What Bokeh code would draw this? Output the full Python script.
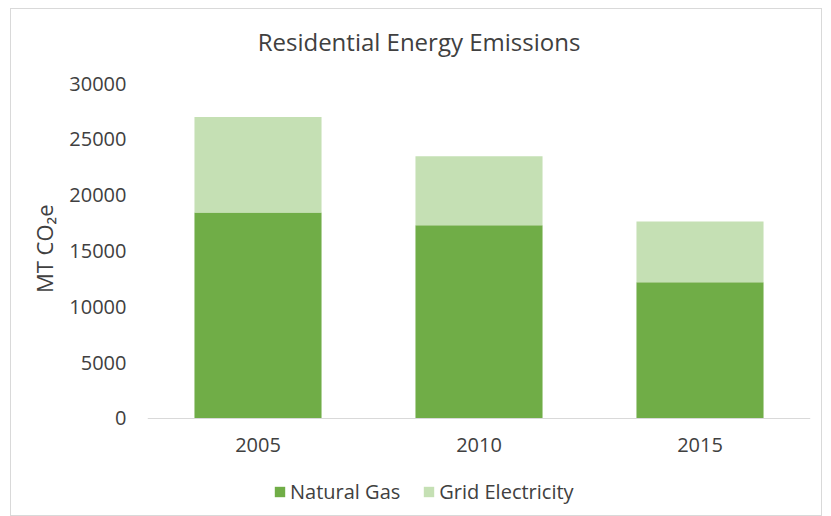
from bokeh.plotting import figure
from bokeh.models import Legend, LegendItem, Range1d, FactorRange, FixedTicker, Title, Label
from bokeh.embed import file_html
from bokeh.resources import INLINE

years = ["2005", "2010", "2015"]
natural_gas = [18450, 17300, 12200]
grid_electricity = [8550, 6200, 5450]
series = ["Natural Gas", "Grid Electricity"]
colors = ["#70AD47", "#C5E0B4"]
y_ticks = [0, 5000, 10000, 15000, 20000, 25000, 30000]
chart_title = "Residential Energy Emissions"
y_label = "MT CO₂e"

FONT = "Open Sans"
TXT = "#404040"

# layout: value axis 0..30000 occupies 334 px; the frame extends 74 px above
# the top tick and 99 px below zero so the title and the legend can sit inside it
Y_MAX = 30000
AXIS_PX = 334
ABOVE_PX = 74
BELOW_PX = 99
y_start = -BELOW_PX * Y_MAX / AXIS_PX
y_end = Y_MAX + ABOVE_PX * Y_MAX / AXIS_PX

data = {"year": years, "Natural Gas": natural_gas, "Grid Electricity": grid_electricity}

p = figure(x_range=FactorRange(*years), y_range=Range1d(y_start, y_end),
           width=812, height=508, output_backend="svg", toolbar_location=None,
           min_border_left=136, min_border_right=13, min_border_top=0, min_border_bottom=0)
p.margin = (8, 0, 0, 10)
p.styles = {"border": "1px solid #d9d9d9"}

rs = p.vbar_stack(series, x="year", width=0.575, color=colors, source=data, line_width=0)

title = Label(text=chart_title, x=271.5, y=476, x_units="screen", y_units="screen",
              text_align="center", text_baseline="alphabetic",
              text_font=FONT, text_font_size="24px", text_color=TXT)
p.add_layout(title)

p.xgrid.visible = False
p.ygrid.visible = False
p.outline_line_color = None

p.yaxis.ticker = FixedTicker(ticks=y_ticks)
p.yaxis.bounds = (0, Y_MAX)
p.yaxis.axis_line_color = None
p.yaxis.major_tick_line_color = None
p.yaxis.minor_tick_line_color = None
p.yaxis.major_label_standoff = 15
p.yaxis.major_label_text_font = FONT
p.yaxis.major_label_text_font_size = "20px"
p.yaxis.major_label_text_color = TXT

ylab = Title(text=y_label, align="right", offset=195, standoff=16,
             text_font=FONT, text_font_size="22px", text_font_style="normal",
             text_color=TXT)
p.add_layout(ylab, "left")

p.xaxis.fixed_location = 0
p.xaxis.axis_line_color = "#d9d9d9"
p.xaxis.axis_line_width = 1
p.xaxis.major_tick_line_color = None
p.xaxis.minor_tick_line_color = None
p.xaxis.major_label_standoff = 14
p.xaxis.major_label_text_font = FONT
p.xaxis.major_label_text_font_size = "20px"
p.xaxis.major_label_text_color = TXT

legend = Legend(items=[LegendItem(label=s, renderers=[r]) for s, r in zip(series, rs)],
                orientation="horizontal", location=(126, 12),
                glyph_width=13, glyph_height=13, label_standoff=4, spacing=22,
                padding=0, margin=0, border_line_color=None, background_fill_alpha=0,
                label_text_font=FONT, label_text_font_size="20px", label_text_color=TXT)
p.add_layout(legend, "center")

open("out.html", "w").write(file_html(p, INLINE))
